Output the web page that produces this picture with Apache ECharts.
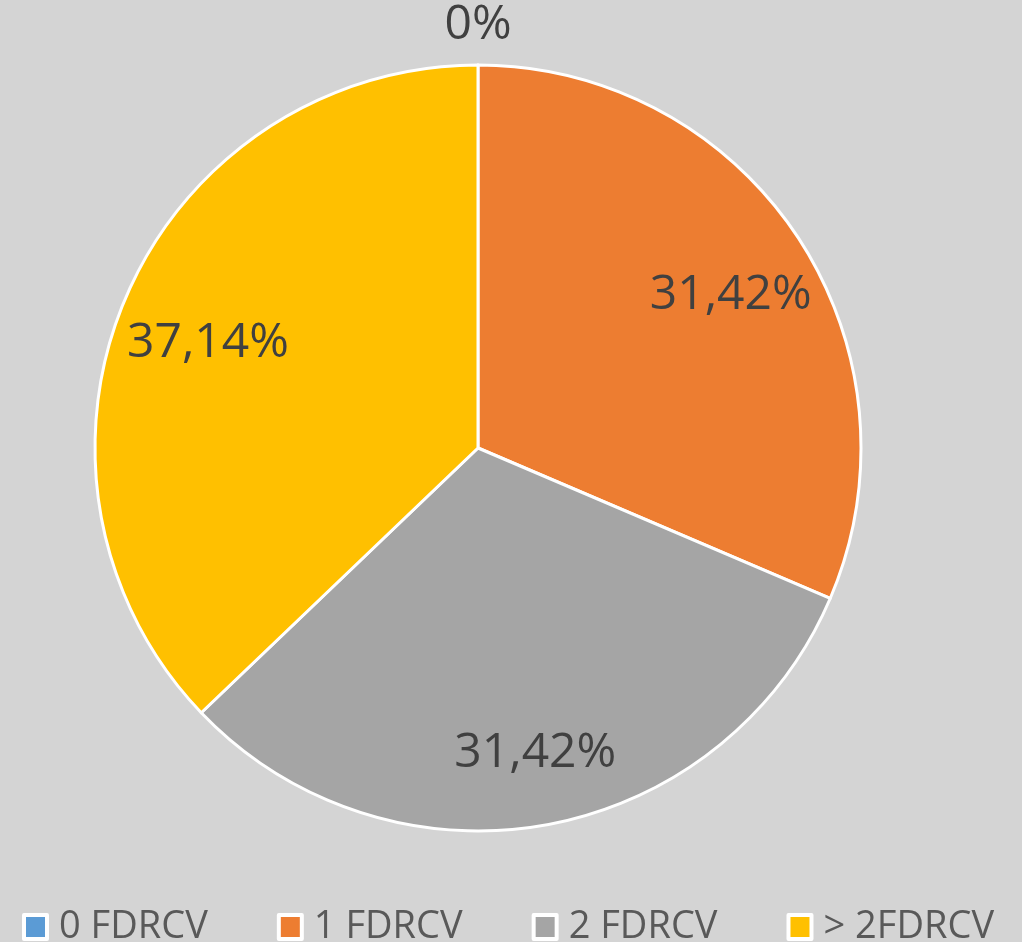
<!DOCTYPE html>
<html>
<head>
<meta charset="utf-8">
<script src="https://cdn.jsdelivr.net/npm/echarts@6/dist/echarts.min.js"></script>
<style>
  html, body { margin: 0; padding: 0; background: #d4d4d4; }
  #chart { width: 1022px; height: 942px; }
</style>
</head>
<body>
<div id="chart"></div>
<script>
const categories = ["0 FDRCV", "1 FDRCV", "2 FDRCV", "> 2FDRCV"];
const values = [0, 31.42, 31.42, 37.14];
const colors = ["#5b9bd5", "#ed7d31", "#a5a5a5", "#ffc000"];

const fmt = (v) => (v === 0 ? "0%" : v.toFixed(2).replace(".", ",") + "%");

const chart = echarts.init(document.getElementById("chart"));

const pieData = categories.map((name, i) => {
  return { name: name, value: values[i], itemStyle: { color: colors[i] } };
});

// label-only rings, transparent, to push labels out toward the rim
const labelData = (showZero) =>
  categories.map((name, i) => {
    return {
      name: name,
      value: values[i],
      label: { show: showZero ? values[i] === 0 : values[i] !== 0 },
    };
  });

const labelStyle = {
  position: "inside",
  formatter: (p) => fmt(p.value),
  color: "#404040",
  fontSize: 48,
  fontFamily: "Open Sans",
};

chart.setOption({
  backgroundColor: "#d4d4d4",
  animation: false,
  color: colors,
  legend: {
    data: categories,
    left: 20,
    top: 906,
    padding: 2,
    icon: "rect",
    itemWidth: 23,
    itemHeight: 24,
    itemGap: 69,
    itemStyle: { borderColor: "#ffffff", borderWidth: 4 },
    textStyle: {
      color: "#595959",
      fontSize: 38,
      fontFamily: "Open Sans",
      padding: [0, 0, 0, 7],
    },
  },
  series: [
    {
      type: "pie",
      center: [478, 448],
      radius: [0, 383],
      startAngle: 90,
      clockwise: true,
      silent: true,
      data: pieData,
      itemStyle: { borderColor: "#ffffff", borderWidth: 3 },
      label: { show: false },
      labelLine: { show: false },
    },
    {
      type: "pie",
      center: [478, 448],
      radius: [210, 380],
      startAngle: 90,
      clockwise: true,
      silent: true,
      data: labelData(false),
      itemStyle: { color: "rgba(0,0,0,0)" },
      label: Object.assign({}, labelStyle, { offset: [4, 12] }),
      labelLine: { show: false },
    },
    {
      type: "pie",
      center: [478, 448],
      radius: [400, 440],
      startAngle: 90,
      clockwise: true,
      silent: true,
      data: labelData(true),
      itemStyle: { color: "rgba(0,0,0,0)" },
      label: labelStyle,
      labelLine: { show: false },
    },
  ],
});
</script>
</body>
</html>
